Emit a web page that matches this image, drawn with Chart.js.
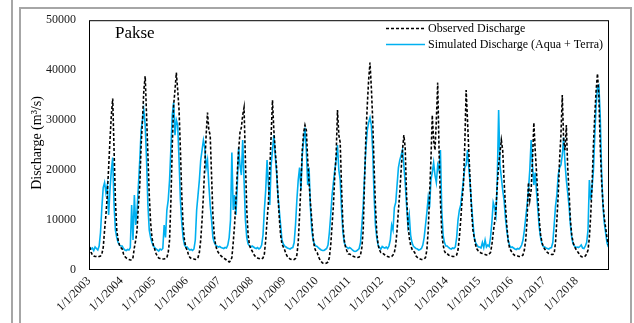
<!DOCTYPE html>
<html>
<head>
<meta charset="utf-8">
<title>Pakse discharge</title>
<script src="https://cdn.jsdelivr.net/npm/chart.js@4.4.1/dist/chart.umd.min.js"></script>
<style>
  body { margin: 0; background: #fff; }
  #wrap { position: relative; width: 634px; height: 323px; overflow: hidden; }
  .rule { position: absolute; background: #a6a6a6; }
  canvas { position: absolute; left: 0; top: 0; }
</style>
</head>
<body>
<div id="wrap">
  <div class="rule" style="left:11px;top:0;width:2px;height:323px"></div>
  <div class="rule" style="left:19px;top:7px;width:2px;height:316px"></div>
  <div class="rule" style="left:19px;top:7px;width:613px;height:2px"></div>
  <div class="rule" style="left:630px;top:7px;width:2px;height:316px"></div>
  <canvas id="chart" width="634" height="323"></canvas>
</div>
<script>
// years on the axis, one row of half-month values per year
const years = [2003, 2004, 2005, 2006, 2007, 2008, 2009, 2010, 2011, 2012, 2013, 2014, 2015, 2016, 2017, 2018];
const tickLabels = ['1/1/2003', '1/1/2004', '1/1/2005', '1/1/2006', '1/1/2007', '1/1/2008', '1/1/2009', '1/1/2010',
  '1/1/2011', '1/1/2012', '1/1/2013', '1/1/2014', '1/1/2015', '1/1/2016', '1/1/2017', '1/1/2018'];
const yTicks = [0, 10000, 20000, 30000, 40000, 50000];

// observed discharge (m3/s), 24 values per year
const observed = [
  4600, 3600, 3000, 2800, 2700, 2700, 2600, 2700, 2800, 3200, 4500, 8000, 11000, 15000, 20500, 26000, 31000, 34300, 24000, 14000, 8000, 6000, 5000, 4500,
  4200, 3200, 2700, 2400, 2200, 2100, 2000, 2000, 2500, 4500, 6000, 8000, 13000, 17000, 25000, 30000, 36000, 38800, 31000, 23000, 15000, 9500, 6500, 5000,
  4200, 3300, 2700, 2400, 2300, 2200, 2200, 2200, 2300, 2500, 3500, 6000, 14000, 25000, 33000, 36000, 39500, 36000, 32000, 24000, 15000, 9000, 6000, 4500,
  4000, 3000, 2500, 2300, 2200, 2200, 2100, 2200, 2500, 3500, 6000, 10000, 15000, 21000, 27000, 31500, 28000, 27000, 19000, 11000, 7000, 5000, 4000, 3500,
  3200, 2800, 2600, 2400, 2200, 2000, 1800, 1600, 1800, 2500, 5500, 9000, 14000, 19500, 24000, 27500, 28500, 31000, 32500, 22000, 12000, 7000, 5000, 4200,
  3800, 3200, 2800, 2600, 2400, 2300, 2200, 2200, 2400, 3200, 6000, 10000, 13500, 20000, 27000, 34000, 28000, 24000, 20500, 15000, 10500, 7000, 5200, 4600,
  4000, 3200, 2700, 2400, 2200, 2100, 2000, 2100, 2300, 3000, 5500, 11000, 17000, 24000, 27500, 29000, 28000, 22000, 17500, 13500, 10000, 6500, 4500, 3800,
  3500, 2600, 2100, 1700, 1400, 1300, 1300, 1400, 1600, 2500, 5000, 9000, 13000, 19000, 23000, 32000, 27000, 25500, 16500, 9000, 6000, 4500, 3800, 3200,
  3200, 3000, 2800, 2700, 2600, 2600, 2500, 2600, 3000, 4500, 8000, 18000, 27000, 33000, 38000, 41500, 36500, 30000, 21000, 13000, 7500, 5000, 4000, 3500,
  3500, 3200, 3000, 2800, 2700, 2600, 2600, 2700, 3000, 3500, 5000, 8000, 12000, 15500, 20000, 24000, 27000, 24500, 15000, 9500, 6500, 5000, 4200, 3800,
  3500, 2800, 2500, 2300, 2200, 2100, 2100, 2200, 2500, 4000, 8000, 15000, 22000, 31000, 26000, 24000, 30000, 37500, 24000, 14000, 7500, 5000, 3800, 3300,
  3300, 3000, 2900, 2800, 2700, 2700, 2800, 3000, 4000, 6500, 10000, 14000, 17000, 25000, 36000, 30000, 23500, 17500, 12000, 8000, 6500, 5000, 4200, 3800,
  3600, 3400, 3300, 3200, 3100, 3000, 3000, 3200, 3500, 5000, 7500, 9500, 12000, 17000, 21000, 23500, 26000, 24000, 18000, 13000, 9000, 6000, 4500, 3900,
  3500, 3100, 2900, 2800, 2800, 2700, 2700, 2800, 3000, 4000, 6000, 10000, 17500, 14000, 16000, 22000, 29500, 24000, 19500, 14500, 10000, 7000, 5500, 4700,
  4200, 3800, 3500, 3300, 3200, 3100, 3100, 3300, 5500, 10000, 15000, 22000, 27000, 35000, 26000, 24000, 29000, 20500, 15500, 10000, 7000, 5500, 4700, 4200,
  3800, 3400, 3000, 2700, 2600, 2600, 2800, 3200, 4000, 6500, 11000, 17000, 25000, 31000, 36000, 39300, 35000, 25000, 18000, 13500, 10500, 8500, 6500, 5000
];

// simulated discharge from Aqua + Terra, 24 values per year
const simulated = [
  4500, 4200, 4400, 3900, 4600, 4300, 4000, 4800, 7500, 12500, 16500, 17500, 15500, 17000, 11000, 16000, 20000, 22500, 13000, 8000, 6500, 5500, 5000, 4800,
  4800, 4300, 4000, 3900, 4100, 4000, 4500, 13000, 6000, 15000, 9000, 12000, 17000, 22000, 28000, 30000, 32000, 29000, 22000, 13000, 8000, 6500, 5500, 4800,
  4500, 4200, 4000, 3800, 4200, 4000, 4300, 9000, 6500, 12000, 14000, 18000, 24500, 31000, 33500, 27000, 30000, 29000, 22000, 14000, 9500, 6500, 5000, 4600,
  4600, 4200, 4000, 4100, 3900, 4200, 6000, 12000, 15000, 18000, 22000, 24000, 26000, 24500, 20500, 22000, 17000, 13000, 10000, 6500, 5500, 5000, 4800, 4600,
  4700, 4500, 4400, 4300, 4500, 4400, 5000, 6500, 10000, 23500, 12000, 15000, 11000, 17000, 24500, 21000, 19000, 26000, 18000, 10000, 6500, 5200, 4800, 4600,
  4800, 4600, 4400, 4300, 4500, 4200, 4400, 5000, 7000, 12000, 16000, 22000, 17000, 13000, 21000, 24000, 27000, 23000, 19500, 15000, 12000, 9000, 6000, 5200,
  4800, 4600, 4400, 4300, 4200, 4400, 4500, 5500, 9000, 14000, 18000, 20500, 16000, 23000, 26000, 28500, 24000, 17000, 20500, 12500, 8000, 6000, 5200, 4800,
  4700, 4400, 4200, 4000, 3900, 3900, 4100, 4300, 5000, 7500, 11000, 15000, 17500, 20000, 22000, 25000, 20000, 18000, 12000, 7500, 5500, 4800, 4500, 4300,
  4500, 4300, 4000, 3800, 3700, 3800, 4000, 4300, 5500, 9000, 13000, 19000, 24500, 28000, 29500, 30500, 29000, 24000, 15000, 9000, 6500, 5000, 4500, 4200,
  4700, 4500, 4400, 4600, 4300, 4800, 6000, 9000, 8000, 12500, 13500, 17000, 20500, 22000, 23000, 24000, 21000, 17500, 13000, 9000, 11000, 7000, 5500, 4800,
  4500, 4300, 4200, 4000, 4100, 4300, 5000, 6500, 9000, 11500, 14500, 12500, 18000, 19500, 21500, 19000, 17500, 21000, 20000, 24000, 12000, 7000, 5500, 4800,
  4800, 4500, 4300, 4200, 4400, 4300, 4600, 6500, 10000, 12000, 13000, 15500, 18000, 20500, 21000, 24000, 20500, 17000, 13000, 9500, 6500, 5500, 5000, 4600,
  4600, 4400, 5500, 4500, 6000, 4600, 5000, 4700, 6500, 9500, 13500, 12500, 11000, 18000, 32000, 21000, 18500, 16000, 14000, 10500, 8000, 6000, 5000, 4500,
  4600, 4400, 4200, 4100, 4300, 4200, 4500, 5000, 6000, 8000, 10500, 13000, 16000, 20000, 26000, 21000, 17000, 19500, 15500, 12000, 8500, 6500, 5200, 4700,
  4600, 4400, 4300, 4200, 4400, 4500, 5500, 9000, 12800, 15000, 19000, 20500, 21000, 23000, 26500, 21500, 18000, 15500, 12800, 9000, 6500, 5200, 4800, 4500,
  4600, 4500, 4700, 5000, 4400, 4300, 4800, 5500, 8000, 18000, 14000, 16500, 20000, 27000, 33000, 36700, 37000, 31000, 20000, 13000, 9500, 7500, 5500, 4600
];

const PER_YEAR = 24;
const SERIF = 'Liberation Serif';

// place each half-month value in the middle of its period (decimal years)
function toPoints(values) {
  return values.map((v, i) => ({
    x: years[0] + (i + 0.5) / PER_YEAR,
    y: v
  }));
}

// plot frame, station name, legend and axis title
const decorations = {
  id: 'decorations',
  afterDatasetsDraw(chart) {
    const { ctx, chartArea } = chart;
    ctx.save();
    ctx.strokeStyle = '#000';
    ctx.lineWidth = 1;
    ctx.setLineDash([]);
    ctx.strokeRect(chartArea.left + 0.5, chartArea.top + 0.5,
      chartArea.right - chartArea.left - 1, chartArea.bottom - chartArea.top - 1);

    ctx.fillStyle = '#000';
    ctx.font = '17px "' + SERIF + '"';
    ctx.textBaseline = 'alphabetic';
    ctx.fillText('Pakse', 115, 38);

    const items = chart.data.datasets;
    const rows = [28.5, 44.5];
    items.forEach((ds, i) => {
      ctx.beginPath();
      ctx.lineWidth = 1.4;
      ctx.strokeStyle = ds.borderColor;
      ctx.setLineDash(ds.borderDash || []);
      ctx.moveTo(386, rows[i]);
      ctx.lineTo(425, rows[i]);
      ctx.stroke();
      ctx.setLineDash([]);
      ctx.fillStyle = '#000';
      ctx.font = '12px "' + SERIF + '"';
      ctx.textBaseline = 'middle';
      ctx.fillText(ds.label, 428, rows[i]);
    });

    ctx.translate(37, 143);
    ctx.rotate(-Math.PI / 2);
    ctx.textAlign = 'center';
    ctx.textBaseline = 'middle';
    ctx.font = '14px "' + SERIF + '"';
    ctx.fillText('Discharge (m³/s)', 0, 0);
    ctx.restore();
  }
};

new Chart(document.getElementById('chart'), {
  type: 'line',
  data: {
    datasets: [
      {
        label: 'Observed Discharge',
        data: toPoints(observed),
        borderColor: '#000000',
        borderWidth: 1.6,
        borderDash: [3, 2],
        pointRadius: 0,
        tension: 0
      },
      {
        label: 'Simulated Discharge (Aqua + Terra)',
        data: toPoints(simulated),
        borderColor: '#00b0f0',
        borderWidth: 1.6,
        pointRadius: 0,
        tension: 0
      }
    ]
  },
  options: {
    responsive: false,
    animation: false,
    devicePixelRatio: 1,
    layout: { padding: { top: 16, right: 25, left: 0, bottom: 0 } },
    plugins: {
      legend: { display: false },
      tooltip: { enabled: false }
    },
    scales: {
      x: {
        type: 'linear',
        min: years[0],
        max: years[years.length - 1] + 1,
        grid: { display: false, drawTicks: false },
        border: { display: false },
        afterBuildTicks: (scale) => {
          scale.ticks = years.map((y) => ({ value: y }));
        },
        afterFit: (scale) => { scale.height = 53; },
        ticks: {
          autoSkip: false,
          minRotation: 45,
          maxRotation: 45,
          padding: 4,
          color: '#1a1a1a',
          font: { family: SERIF, size: 12 },
          callback: (value, index) => tickLabels[index]
        }
      },
      y: {
        min: 0,
        max: 50000,
        grid: { display: false, drawTicks: false },
        border: { display: false },
        afterBuildTicks: (scale) => {
          scale.ticks = yTicks.map((v) => ({ value: v }));
        },
        afterFit: (scale) => { scale.width = 89; },
        ticks: {
          padding: 13,
          color: '#1a1a1a',
          font: { family: SERIF, size: 12 },
          callback: (value) => String(value)
        }
      }
    }
  },
  plugins: [decorations]
});
</script>
</body>
</html>
